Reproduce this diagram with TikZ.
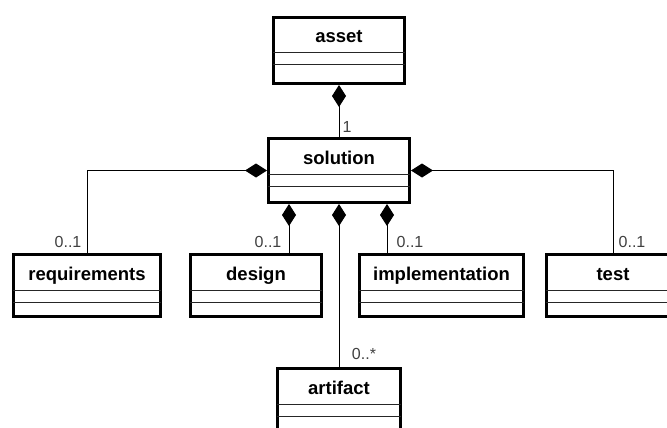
\documentclass[tikz,border=0pt]{standalone}
\usepackage{fontspec}
\setmainfont{Liberation Sans}
\usetikzlibrary{arrows.meta,calc}
\tikzset{
  classbox/.style={draw, line width=2.6pt, fill=white, anchor=north west, inner sep=0pt},
  compline/.style={line width=1pt, black!85},
  classname/.style={font=\fontsize{18.5}{22}\selectfont\bfseries, anchor=base, inner sep=0pt},
  mult/.style={font=\fontsize{16}{19}\selectfont, text=black!75, anchor=base, inner sep=0pt},
  composition/.style={line width=1pt, {Diamond[length=22pt,width=14pt]}-}
}
% \umlclass{name}{left}{top}{width}{height}{title}
\newcommand\umlclass[6]{%
  \node[classbox, minimum width=#4pt-2.6pt, minimum height=#5pt-2.6pt] (#1) at (#2,#3) {};
  \node[classname] (#1-title) at ([yshift=-27pt]#1.north) {#6};
  \draw[compline] ([xshift=1pt,yshift=-37pt]#1.north west) -- ([xshift=-1pt,yshift=-37pt]#1.north east);
  \draw[compline] ([xshift=1pt,yshift=-49pt]#1.north west) -- ([xshift=-1pt,yshift=-49pt]#1.north east);
}
\begin{document}
\begin{tikzpicture}[x=1pt, y=-1pt]
  \useasboundingbox (0,0) rectangle (667,428);
  \clip (0,0) rectangle (667,428);

  \umlclass{asset}{272}{16}{134}{69}{asset}
  \umlclass{solution}{267}{137}{144}{67}{solution}
  \umlclass{requirements}{12}{253}{150}{65}{requirements}
  \umlclass{design}{189}{253}{134}{65}{design}
  \umlclass{implementation}{358}{253}{167}{65}{implementation}
  \umlclass{test}{545}{253}{136}{65}{test}
  \umlclass{artifact}{276}{367}{126}{66}{artifact}

  % compositions
  \draw[composition] (asset.south) -- (solution.north);
  \draw[composition] (solution.west) -| (requirements.north);
  \draw[composition] (solution.east) -| (test.north);
  \draw[composition] ([xshift=-50pt]solution.south) -- ([xshift=-50pt]solution.south |- design.north);
  \draw[composition] ([xshift=48pt]solution.south) -- ([xshift=48pt]solution.south |- implementation.north);
  \draw[composition] (solution.south) -- (artifact.north);

  % multiplicities
  \node[mult] (m-solution) at (347,132) {1};
  \node[mult] (m-requirements) at (68,247) {0..1};
  \node[mult] (m-design) at (268,247) {0..1};
  \node[mult] (m-implementation) at (410,247) {0..1};
  \node[mult] (m-test) at (632,247) {0..1};
  \node[mult] (m-artifact) at (364,359) {0..*};
\end{tikzpicture}
\end{document}
